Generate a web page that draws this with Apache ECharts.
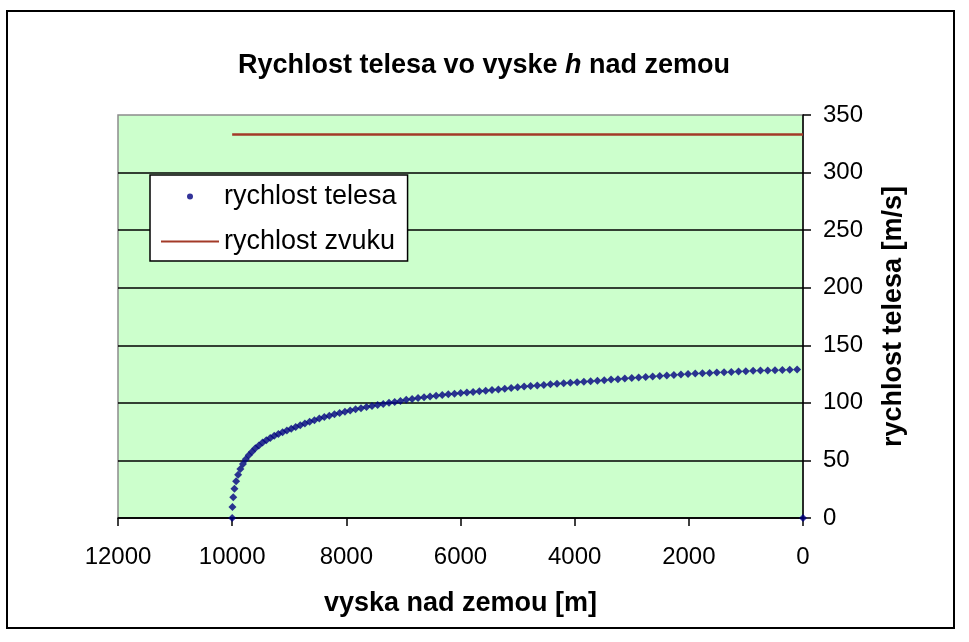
<!DOCTYPE html>
<html>
<head>
<meta charset="utf-8">
<title>Rychlost telesa vo vyske h nad zemou</title>
<script src="https://cdn.jsdelivr.net/npm/echarts@6/dist/echarts.min.js"></script>
<style>
  html, body { margin: 0; padding: 0; background: #fff; }
  #main { width: 969px; height: 642px; }
</style>
</head>
<body>
<div id="main"></div>
<script>
// vyska nad zemou [m] - jeden bod za sekundu padu
var heights = [
  10000, 9995, 9981, 9960, 9931, 9896, 9856, 9811, 9762, 9709,
  9653, 9594, 9532, 9468, 9402, 9333, 9263, 9191, 9117, 9042,
  8965, 8887, 8807, 8726, 8643, 8559, 8473, 8386, 8298, 8208,
  8117, 8025, 7932, 7838, 7743, 7647, 7550, 7452, 7353, 7253,
  7153, 7052, 6950, 6847, 6743, 6638, 6533, 6427, 6320, 6213,
  6105, 5997, 5888, 5779, 5669, 5559, 5448, 5337, 5225, 5112,
  4999, 4885, 4771, 4656, 4541, 4425, 4309, 4192, 4075, 3957,
  3839, 3720, 3601, 3482, 3362, 3242, 3121, 3000, 2878, 2756,
  2633, 2510, 2386, 2262, 2138, 2013, 1888, 1762, 1636, 1510,
  1383, 1256, 1129, 1002, 874, 746, 618, 490, 361, 232,
  103, 0
];
// rychlost telesa [m/s]
var speeds = [
  0, 9.5, 18, 25.5, 32, 37.5, 42.5, 47, 51, 54.5,
  57.5, 60.5, 63, 65.5, 67.5, 69.5, 71.5, 73, 74.5, 76,
  77.5, 79, 80.5, 82, 83.5, 85, 86.5, 87.7, 88.9, 90.1,
  91.2, 92.3, 93.4, 94.4, 95.4, 96.4, 97.3, 98.2, 99.1, 100,
  100.8, 101.7, 102.6, 103.4, 104.2, 104.9, 105.6, 106.2, 106.8, 107.4,
  108, 108.5, 109, 109.5, 110, 110.5, 111.1, 111.7, 112.3, 112.9,
  113.5, 114.1, 114.6, 115.1, 115.6, 116.1, 116.6, 117.1, 117.5, 117.9,
  118.4, 118.8, 119.3, 119.7, 120.2, 120.6, 121.1, 121.5, 122, 122.4,
  122.9, 123.3, 123.8, 124.2, 124.6, 125, 125.4, 125.7, 126, 126.3,
  126.6, 126.9, 127.2, 127.5, 127.8, 128, 128.2, 128.4, 128.6, 128.8,
  129, 0
];
// rychlost zvuku
var soundHeights = [10000, 0];
var soundSpeeds = [333, 333];

var seriesNames = ['rychlost telesa', 'rychlost zvuku'];

var bodyData = heights.map(function (h, i) { return [h, speeds[i]]; });
var soundData = soundHeights.map(function (h, i) { return [h, soundSpeeds[i]]; });

var font = '"Liberation Sans", Arial, sans-serif';
var plainNumber = function (v) { return String(v); };

var myChart = echarts.init(document.getElementById('main'));
var option = {
  animation: false,
  backgroundColor: '#ffffff',
  title: {
    text: '{a|Rychlost telesa vo vyske }{i|h}{a| nad zemou}',
    left: 479,
    textAlign: 'center',
    top: 47,
    textStyle: {
      rich: {
        a: { fontFamily: font, fontSize: 27, fontWeight: 'bold', color: '#000' },
        i: { fontFamily: font, fontSize: 27, fontWeight: 'bold', fontStyle: 'italic', color: '#000' }
      }
    }
  },
  legend: {
    orient: 'vertical',
    left: 150,
    top: 175,
    data: [
      { name: seriesNames[0], icon: 'circle' },
      { name: seriesNames[1], itemStyle: { opacity: 0 } }
    ],
    symbolKeepAspect: true,
    padding: [8, 11, 6, 10],
    itemGap: 18,
    itemWidth: 58,
    itemHeight: 6,
    backgroundColor: '#ffffff',
    borderColor: '#000000',
    borderWidth: 1.5,
    textStyle: { fontFamily: font, fontSize: 27, color: '#000' }
  },
  grid: {
    left: 118,
    top: 115,
    width: 685,
    height: 403,
    show: true,
    backgroundColor: '#ccffcc',
    borderColor: '#8c8c8c',
    borderWidth: 1.5
  },
  xAxis: {
    type: 'value',
    inverse: true,
    min: 0,
    max: 12000,
    interval: 2000,
    name: 'vyska nad zemou [m]',
    nameLocation: 'middle',
    nameGap: 72,
    nameTextStyle: { fontFamily: font, fontSize: 27, fontWeight: 'bold', color: '#000' },
    axisLine: { onZero: false, lineStyle: { color: '#000', width: 1.5 } },
    axisTick: { show: true, length: 8, lineStyle: { color: '#000', width: 1.5 } },
    axisLabel: { margin: 27, fontFamily: font, fontSize: 24, color: '#000', formatter: plainNumber },
    splitLine: { show: false }
  },
  yAxis: {
    type: 'value',
    position: 'right',
    min: 0,
    max: 350,
    interval: 50,
    name: 'rychlost telesa [m/s]',
    nameLocation: 'middle',
    nameRotate: 90,
    nameGap: 77,
    nameTextStyle: { fontFamily: font, fontSize: 27, fontWeight: 'bold', color: '#000' },
    axisLine: { show: true, onZero: false, lineStyle: { color: '#000', width: 1.5 } },
    axisTick: { show: true, length: 8, lineStyle: { color: '#000', width: 1.5 } },
    axisLabel: { margin: 20, fontFamily: font, fontSize: 24, color: '#000', formatter: plainNumber },
    splitLine: { show: true, showMaxLine: false, lineStyle: { color: '#000', width: 1.5 } }
  },
  series: [
    {
      name: seriesNames[0],
      type: 'scatter',
      data: bodyData,
      symbol: 'diamond',
      symbolSize: 8,
      symbolKeepAspect: true,
      itemStyle: { color: '#000080' },
      z: 3
    },
    {
      name: seriesNames[1],
      type: 'line',
      data: soundData,
      symbol: 'none',
      lineStyle: { color: '#a33a28', width: 2.5 },
      itemStyle: { color: '#a33a28' },
      z: 2
    }
  ],
  graphic: [
    {
      type: 'rect',
      shape: { x: 7, y: 11, width: 947, height: 617 },
      style: { fill: 'none', stroke: '#000', lineWidth: 2 },
      silent: true
    }
  ]
};
myChart.setOption(option);
</script>
</body>
</html>
